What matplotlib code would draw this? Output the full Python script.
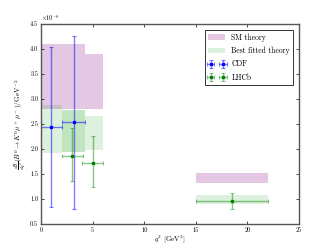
import matplotlib
matplotlib.use("Agg")
import matplotlib.pyplot as plt
from matplotlib.patches import Patch
from matplotlib.ticker import FormatStrFormatter
import numpy as np

plt.rcParams['font.family'] = ['cmr10', 'DejaVu Serif']
plt.rcParams['mathtext.fontset'] = 'cm'
plt.rcParams['axes.formatter.use_mathtext'] = False

# values in units of 1e-8
# SM theory bins
sm_lo = [0.0, 2.0, 4.3, 15.0]
sm_hi = [2.0, 4.3, 6.0, 22.0]
sm_min = [2.80, 2.80, 2.80, 1.33]
sm_max = [4.11, 4.11, 3.90, 1.53]

# Best fitted theory bins
fit_lo = [0.0, 2.0, 2.0, 4.3, 15.0]
fit_hi = [2.0, 4.3, 4.3, 6.0, 22.0]
fit_min = [1.93, 1.95, 1.95, 1.99, 0.91]
fit_max = [2.88, 2.78, 2.78, 2.66, 1.08]

# CDF data
cdf_x = [1.0, 3.15]
cdf_xlo = [1.0, 1.15]
cdf_xhi = [1.0, 1.15]
cdf_y = [2.45, 2.54]
cdf_yerr = [1.60, 1.73]

# LHCb data
lhcb_x = [3.05, 5.0, 18.5]
lhcb_xlo = [1.05, 1.0, 3.5]
lhcb_xhi = [1.05, 1.0, 3.5]
lhcb_y = [1.87, 1.73, 0.96]
lhcb_ylo = [0.50, 0.48, 0.16]
lhcb_yhi = [0.56, 0.54, 0.16]

fig = plt.figure(figsize=(3.32, 2.49), dpi=100)
ax = fig.add_axes([0.1235, 0.1004, 0.777, 0.8032])

sm_col = (0.5, 0.0, 0.5, 0.22)
fit_col = (0.0, 0.6, 0.0, 0.13)
for lo, hi, a, b in zip(sm_lo, sm_hi, sm_min, sm_max):
    ax.fill_between([lo, hi], a, b, color=sm_col, lw=0, antialiased=False)
for lo, hi, a, b in zip(fit_lo, fit_hi, fit_min, fit_max):
    ax.fill_between([lo, hi], a, b, color=fit_col, lw=0, antialiased=False)

cdf = ax.errorbar(cdf_x, cdf_y, xerr=[cdf_xlo, cdf_xhi], yerr=cdf_yerr,
                  fmt='s', ms=1.5, color='blue', ecolor=(0, 0, 1, 0.5),
                  elinewidth=1.0, capsize=1.5, capthick=0.8, label='CDF')
lhcb = ax.errorbar(lhcb_x, lhcb_y, xerr=[lhcb_xlo, lhcb_xhi],
                   yerr=[lhcb_ylo, lhcb_yhi],
                   fmt='s', ms=1.5, color='green', ecolor=(0, 0.5, 0, 0.45),
                   elinewidth=1.0, capsize=1.5, capthick=0.8, label='LHCb')

ax.set_xlim(0, 25)
ax.set_ylim(0.5, 4.5)
ax.set_xticks([0, 5, 10, 15, 20, 25])
ax.set_yticks(np.arange(0.5, 4.51, 0.5))
ax.yaxis.set_major_formatter(FormatStrFormatter('%.1f'))
ax.tick_params(direction='in', top=True, right=True, labelsize=4.5,
               length=2.5, width=0.5, pad=2)
for s in ax.spines.values():
    s.set_linewidth(1.0)
    s.set_color('#555555')
ax.text(0.0, 1.003, r'$\times10^{-8}$', transform=ax.transAxes,
        fontsize=4.5, ha='left', va='bottom')

ax.set_xlabel(r'$q^2$ [GeV$^2$]', fontsize=5.2, labelpad=0.5)
ax.set_ylabel(r'$\frac{d\mathcal{B}}{dq^2}(B^0\to K^0\mu^+\mu^-)/\mathrm{GeV}^{-2}$',
              fontsize=5.2, labelpad=1)

handles = [Patch(color=sm_col, lw=0), Patch(color=fit_col, lw=0), cdf, lhcb]
labels = ['SM theory', 'Best fitted theory', 'CDF', 'LHCb']
leg = ax.legend(handles, labels, loc='upper right', fontsize=5.5, numpoints=2,
                fancybox=False, framealpha=1, edgecolor='#333333',
                borderaxespad=0.8, handlelength=2.2, labelspacing=0.65)
leg.get_frame().set_linewidth(0.7)

fig.savefig('out.png', dpi=100)
